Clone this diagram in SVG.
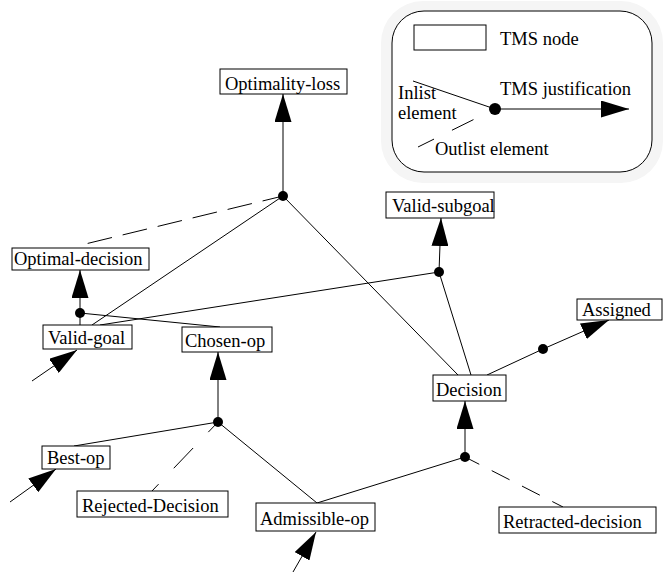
<svg xmlns="http://www.w3.org/2000/svg" width="670" height="572" viewBox="0 0 670 572">
<style>
.box{fill:#fff;stroke:#000;stroke-width:1}
.lbl{font-family:"Liberation Serif","Times New Roman",serif;font-size:18.5px;fill:#000}
.ln{stroke:#000;stroke-width:1;fill:none}
.arr{stroke:#000;stroke-width:1;fill:none;marker-end:url(#head)}
.dot{fill:#000}
</style>
<defs>
<marker id="head" viewBox="0 0 28 17" refX="28" refY="8.5" markerWidth="28" markerHeight="17" markerUnits="userSpaceOnUse" orient="auto">
<path d="M0,0 L28,8.5 L0,17 z" fill="#000"/>
</marker>
</defs>
<rect width="670" height="572" fill="#fff"/>
<g id="legend">
<rect x="381" y="1" width="282" height="182" rx="42" fill="#f5f5f5"/>
<rect class="box" x="392" y="11" width="260" height="161" rx="32"/>
<rect class="box" x="414" y="25" width="72" height="25"/>
<text class="lbl" x="500" y="45">TMS node</text>
<text class="lbl" x="500" y="95">TMS justification</text>
<text class="lbl" x="398" y="99">Inlist</text>
<text class="lbl" x="398" y="119">element</text>
<text class="lbl" x="435" y="155">Outlist element</text>
<line class="ln" x1="413" y1="81" x2="495" y2="109"/>
<line class="ln" x1="495" y1="109" x2="418" y2="147" stroke-dasharray="24 20" stroke-dashoffset="20"/>
<line class="arr" x1="495" y1="109" x2="629" y2="109"/>
<circle class="dot" cx="495" cy="109" r="6"/>
</g>
<g id="connectors">
<line class="arr" x1="283" y1="196" x2="283" y2="94"/>
<line class="ln" x1="92" y1="325" x2="283" y2="196"/>
<line class="ln" x1="458" y1="375" x2="283" y2="196"/>
<line class="ln" x1="283" y1="196" x2="77" y2="246" stroke-dasharray="25 11" stroke-dashoffset="4"/>
<line class="arr" x1="80" y1="313" x2="80" y2="270"/>
<line class="ln" x1="80" y1="313" x2="80" y2="325"/>
<line class="ln" x1="80" y1="313" x2="220" y2="327"/>
<line class="arr" x1="439" y1="272" x2="441" y2="218"/>
<line class="ln" x1="100" y1="325" x2="439" y2="272"/>
<line class="ln" x1="471" y1="375" x2="439" y2="272"/>
<line class="ln" x1="487" y1="375" x2="543" y2="349"/>
<line class="arr" x1="543" y1="349" x2="609" y2="320"/>
<line class="arr" x1="218" y1="422" x2="218" y2="352"/>
<line class="ln" x1="74" y1="446" x2="218" y2="422"/>
<line class="ln" x1="317" y1="503" x2="218" y2="422"/>
<line class="ln" x1="218" y1="422" x2="152" y2="491" stroke-dasharray="28 22" stroke-dashoffset="14"/>
<line class="arr" x1="465" y1="457" x2="465" y2="401"/>
<line class="ln" x1="317" y1="503" x2="465" y2="457"/>
<line class="ln" x1="465" y1="457" x2="563" y2="507" stroke-dasharray="20 14" stroke-dashoffset="4"/>
<line class="arr" x1="32" y1="381" x2="77" y2="350"/>
<line class="arr" x1="10" y1="502" x2="56" y2="469"/>
<line class="arr" x1="293" y1="572" x2="316" y2="532"/>
<circle class="dot" cx="283" cy="196" r="5"/>
<circle class="dot" cx="80" cy="313" r="5"/>
<circle class="dot" cx="439" cy="272" r="5"/>
<circle class="dot" cx="543" cy="349" r="5"/>
<circle class="dot" cx="218" cy="422" r="5"/>
<circle class="dot" cx="465" cy="457" r="5"/>
</g>
<g id="optimality-loss"><rect class="box" x="220" y="69" width="127" height="25"/><text class="lbl" x="225" y="90">Optimality-loss</text></g>
<g id="optimal-decision"><rect class="box" x="12" y="248" width="137" height="22"/><text class="lbl" x="14" y="265">Optimal-decision</text></g>
<g id="valid-goal"><rect class="box" x="43" y="325" width="89" height="24"/><text class="lbl" x="48" y="344">Valid-goal</text></g>
<g id="chosen-op"><rect class="box" x="182" y="327" width="90" height="25"/><text class="lbl" x="185" y="347">Chosen-op</text></g>
<g id="valid-subgoal"><rect class="box" x="386" y="192" width="108" height="26"/><text class="lbl" x="392" y="212">Valid-subgoal</text></g>
<g id="assigned"><rect class="box" x="577" y="299" width="85" height="21"/><text class="lbl" x="582" y="316">Assigned</text></g>
<g id="decision"><rect class="box" x="433" y="375" width="73" height="26"/><text class="lbl" x="436" y="396">Decision</text></g>
<g id="best-op"><rect class="box" x="42" y="446" width="68" height="23"/><text class="lbl" x="47" y="464">Best-op</text></g>
<g id="rejected-decision"><rect class="box" x="77" y="491" width="151" height="26"/><text class="lbl" x="82" y="512">Rejected-Decision</text></g>
<g id="admissible-op"><rect class="box" x="256" y="503" width="119" height="28"/><text class="lbl" x="260" y="525">Admissible-op</text></g>
<g id="retracted-decision"><rect class="box" x="499" y="507" width="157" height="26"/><text class="lbl" x="503" y="528">Retracted-decision</text></g>
</svg>
